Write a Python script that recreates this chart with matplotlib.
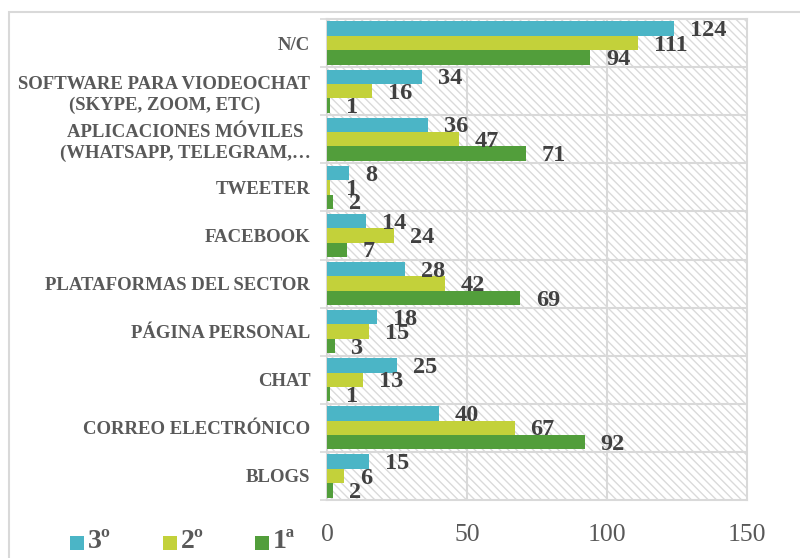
import matplotlib
matplotlib.use("Agg")
import matplotlib.pyplot as plt
import numpy as np
from matplotlib.patches import Rectangle

categories = ["N/C", "SOFTWARE PARA VIODEOCHAT\n(SKYPE, ZOOM, ETC)",
              "APLICACIONES MÓVILES\n(WHATSAPP, TELEGRAM,…",
              "TWEETER", "FACEBOOK", "PLATAFORMAS DEL SECTOR",
              "PÁGINA PERSONAL", "CHAT", "CORREO ELECTRÓNICO", "BLOGS"]
series_names = ["3º", "2º", "1ª"]
v3 = [124, 34, 36, 8, 14, 28, 18, 25, 40, 15]
v2 = [111, 16, 47, 1, 24, 42, 15, 13, 67, 6]
v1 = [94, 1, 71, 2, 7, 69, 3, 1, 92, 2]
colors = ["#4BB5C6", "#C3D13A", "#529E3B"]
xticks = [0, 50, 100, 150]

plt.rcParams['font.family'] = ['Liberation Serif', 'DejaVu Serif']
plt.rcParams['hatch.color'] = '#dadada'
plt.rcParams['hatch.linewidth'] = 1.0

fig = plt.figure(figsize=(8, 5.58), dpi=100)
# chart area border
fig.patches.append(Rectangle((9/800, -0.1), 1.2, 1 - 12/558 + 0.1, transform=fig.transFigure,
                             fill=False, edgecolor='#d9d9d9', linewidth=1.5, zorder=0))

ax = fig.add_axes([327/800, 1 - 500/558, 420/800, 481/558])
ax.set_facecolor('white')
# hatched background
ax.add_patch(Rectangle((0, 0), 1, 1, transform=ax.transAxes, facecolor='white',
                       edgecolor='#dadada', hatch='\\\\\\\\', linewidth=0, zorder=0))

n = len(categories)
y = np.arange(n)
h = 0.3
allvals = [v3, v2, v1]
for i, (vals, c) in enumerate(zip(allvals, colors)):
    ypos = y - h + i * h
    ax.barh(ypos, vals, height=h, color=c, zorder=3, label=series_names[i])
    for yy, v in zip(ypos, vals):
        ax.annotate(str(v), (v, yy), xytext=(11.5, -1.5), textcoords='offset points',
                    ha='left', va='center', fontsize=17.5, fontweight='bold',
                    color='#404040', zorder=5, annotation_clip=False)

ax.set_xlim(0, 150)
ax.set_ylim(n - 0.5, -0.5)
ax.set_xticks(xticks)
ax.set_xticklabels([str(t) for t in xticks], fontsize=18.5, color='#595959')
ax.tick_params(axis='x', length=0, pad=17)
ax.set_yticks(y)
ax.set_yticklabels(categories, fontsize=13.5, fontweight='bold', color='#595959',
                   linespacing=1.25, multialignment='center')
ax.tick_params(axis='y', which='major', length=0, pad=12)
ax.set_yticks(np.arange(-0.5, n, 1), minor=True)
ax.tick_params(axis='y', which='minor', length=5, width=1.2, color='#d9d9d9')

# grid
for b in np.arange(0.5, n - 0.5, 1):
    ax.axhline(b, color='#d9d9d9', linewidth=1.5, zorder=1)
for xv in [50, 100]:
    ax.axvline(xv, color='#d9d9d9', linewidth=1.5, zorder=1)
for s in ax.spines.values():
    s.set_color('#d9d9d9')
    s.set_linewidth(1.5)

# legend
lx = [70, 163, 255]
for xpix, name, c in zip(lx, series_names, colors):
    fig.patches.append(Rectangle((xpix/800, 1 - 550/558), 14/800, 14/558,
                                 transform=fig.transFigure, facecolor=c, edgecolor='none'))
    fig.text((xpix + 18)/800, 1 - 542/558, name, fontsize=20, fontweight='bold',
             color='#595959', ha='left', va='center')

fig.savefig("out.png", dpi=100)
